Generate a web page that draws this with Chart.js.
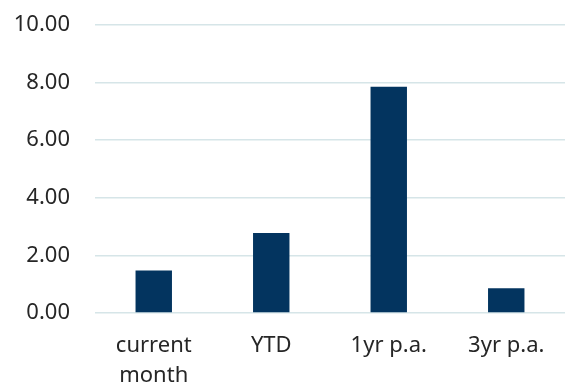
<!DOCTYPE html>
<html>
<head>
<meta charset="utf-8">
<script src="https://cdn.jsdelivr.net/npm/chart.js@4"></script>
<style>
  html, body { margin: 0; padding: 0; background: #fff; }
  #wrap { width: 565px; height: 385px; position: relative; }
</style>
</head>
<body>
<div id="wrap"><canvas id="grafico"></canvas></div>
<script>
const categorias = [['current', 'month'], 'YTD', '1yr p.a.', '3yr p.a.'];
const valores = [1.48, 2.78, 7.86, 0.86];
const yTicks = [0, 2, 4, 6, 8, 10];

document.addEventListener("DOMContentLoaded", function () {
    const ctx = document.getElementById('grafico').getContext('2d');
    new Chart(ctx, {
        type: 'bar',
        data: {
            labels: categorias,
            datasets: [{
                data: valores,
                backgroundColor: '#03345f',
                categoryPercentage: 1,
                barPercentage: 0.31,
                borderWidth: 0
            }]
        },
        options: {
            responsive: true,
            maintainAspectRatio: false,
            animation: false,
            plugins: {
                legend: { display: false },
                tooltip: { enabled: false }
            },
            layout: {
                padding: { left: 0, right: 0, top: 25, bottom: 0 }
            },
            scales: {
                x: {
                    grid: { display: false },
                    border: { display: false },
                    afterFit: function (axis) {
                        axis.height = 72;
                        axis.paddingLeft = 0;
                        axis.paddingRight = 0;
                    },
                    ticks: {
                        color: '#262626',
                        font: { family: 'Noto Sans', size: 22, lineHeight: 1.36 },
                        padding: 10,
                        maxRotation: 0
                    }
                },
                y: {
                    min: 0,
                    max: 10,
                    afterBuildTicks: function (axis) {
                        axis.ticks = yTicks.map(v => ({ value: v }));
                    },
                    afterFit: function (axis) {
                        axis.width = 95;
                        axis.paddingTop = 0;
                        axis.paddingBottom = 0;
                    },
                    grid: { color: '#d6e5e8', lineWidth: 1.5, drawTicks: false },
                    border: { display: false },
                    ticks: {
                        color: '#262626',
                        font: { family: 'Noto Sans', size: 22 },
                        padding: 25,
                        callback: v => v.toFixed(2)
                    }
                }
            }
        }
    });
});
</script>
</body>
</html>
